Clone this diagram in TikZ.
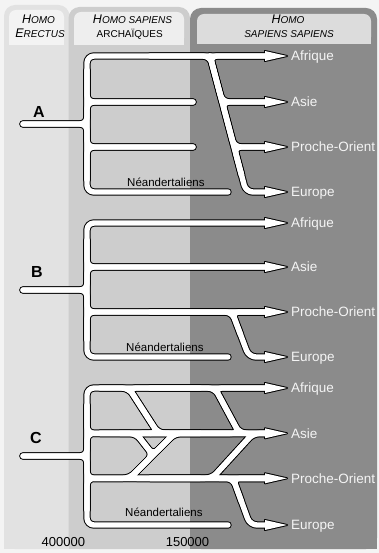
\documentclass[tikz,border=0pt]{standalone}
\usepackage{fontspec}
\setmainfont{Liberation Sans}
\definecolor{pagebg}{HTML}{F4F4F4}
\definecolor{colL}{HTML}{E2E2E2}
\definecolor{colM}{HTML}{CDCDCD}
\definecolor{colR}{HTML}{8B8B8B}
\definecolor{hdL}{HTML}{F3F3F3}
\definecolor{hdM}{HTML}{EEEEEE}
\definecolor{hdR}{HTML}{DCDCDC}
\definecolor{lbl}{HTML}{F4F4F4}
\newcommand\bigsmall[2]{{\fontsize{12.5}{12.5}\selectfont #1}{\fontsize{10}{10}\selectfont #2}}
\newcommand\tubepaths{%
% ---- A
\draw (23,124) -- (87,124) -- (87,56) -- (268,56);
\draw (23,124) -- (87,124) -- (87,192) -- (228,192);
\draw (87,70) -- (87,102) -- (193,102);
\draw (87,180) -- (87,102) -- (193,102);
\draw (87,70) -- (87,147) -- (193,147);
\draw (87,180) -- (87,147) -- (193,147);
\draw (150,56) -- (210,56) -- (246,192) -- (268,192);
\draw (268,56) -- (210,56) -- (222.2,102);
\draw (210,56) -- (222.2,102) -- (268,102);
\draw (241.5,175) -- (222.2,102) -- (268,102);
\draw (210,56) -- (234.1,147) -- (268,147);
\draw (241.5,175) -- (234.1,147) -- (268,147);
% ---- B
\draw (23,290) -- (87,290) -- (87,223) -- (268,223);
\draw (23,290) -- (87,290) -- (87,357) -- (228,357);
\draw (87,240) -- (87,267) -- (268,267);
\draw (87,340) -- (87,267) -- (268,267);
\draw (87,240) -- (87,312) -- (268,312);
\draw (87,340) -- (87,312) -- (268,312);
\draw (150,312) -- (232,312) -- (249,357) -- (268,357);
\draw (268,312) -- (232,312) -- (240.5,334.5);
% ---- C
\draw (23,456) -- (87,456) -- (87,388) -- (268,388);
\draw (23,456) -- (87,456) -- (87,525) -- (228,525);
\draw (87,405) -- (87,433.3) -- (268,433.3);
\draw (87,510) -- (87,433.3) -- (268,433.3);
\draw (87,405) -- (87,478.3) -- (268,478.3);
\draw (87,510) -- (87,478.3) -- (268,478.3);
\draw (100,388) -- (128.8,388) -- (158,433.3) -- (200,433.3);
\draw (200,388) -- (128.8,388) -- (158,433.3) -- (100,433.3);
\draw (150,388) -- (214.9,388) -- (239.3,433.3) -- (268,433.3);
\draw (268,388) -- (214.9,388) -- (239.3,433.3) -- (150,433.3);
\draw (120,433.3) -- (174.7,433.3) -- (129.7,478.3) -- (200,478.3);
\draw (230,433.3) -- (174.7,433.3) -- (129.7,478.3) -- (90,478.3);
\draw (200,433.3) -- (253.2,433.3) -- (212.1,478.3) -- (150,478.3);
\draw (268,433.3) -- (253.2,433.3) -- (212.1,478.3) -- (268,478.3);
\draw (100,433.3) -- (136,433.3) -- (153,455) -- (129.7,478.3);
\draw (200,433.3) -- (136,433.3) -- (153,455) -- (174.7,433.3);
\draw (150,478.3) -- (233,478.3) -- (250,525) -- (268,525);
\draw (268,478.3) -- (233,478.3) -- (241.5,501.7);
}
\newcommand\headpaths[1]{%
\foreach \yy in {56,102,147,192,223,267,312,357,388,433.3,478.3,525}{
  #1 (265,\yy-5) -- (287,\yy) -- (265,\yy+5) -- cycle;
}}
\begin{document}
\begin{tikzpicture}[x=1pt,y=-1pt,
  hdr/.style={inner sep=0pt, anchor=base, text=black},
  region/.style={inner sep=0pt, anchor=base west, text=lbl, font=\fontsize{13.5}{13.5}\selectfont},
  neand/.style={inner sep=0pt, anchor=base west, text=black, font=\fontsize{11.5}{11.5}\selectfont},
  letter/.style={inner sep=0pt, text=black, font=\fontsize{16}{16}\selectfont\bfseries},
  year/.style={inner sep=0pt, anchor=base, text=black, font=\fontsize{13}{13}\selectfont}]
\useasboundingbox (0,0) rectangle (379,553);
% background
\fill[pagebg] (0,0) rectangle (379,553);
\fill[colL, rounded corners=11pt] (4,5) rectangle (69.5,549);
\fill[colL] (4,30) rectangle (68.5,549);
\fill[colM, rounded corners=11pt] (68.5,7) rectangle (190,549);
\fill[colM] (68.5,30) rectangle (189.5,549);
\fill[colR, rounded corners=11pt] (190,8) rectangle (377,549);
\fill[colR] (189.5,30) rectangle (377,549);
% header inner areas
\fill[hdL, rounded corners=7pt] (9,10) rectangle (64,45);
\fill[hdL] (9,30) rectangle (64,45);
\fill[hdM, rounded corners=7pt] (74,12) rectangle (184,45);
\fill[hdM] (74,30) rectangle (184,45);
\fill[hdR, rounded corners=7pt] (197,14) rectangle (371,44);
\fill[hdR] (197,30) rectangle (371,44);
% header texts
\node[hdr] (hL1) at (38.5,24) {\itshape\bigsmall{H}{OMO}};
\node[hdr] (hL2) at (40,37.7) {\itshape\bigsmall{E}{RECTUS}};
\node[hdr] (hM1) at (132.5,23.3) {\itshape\bigsmall{H}{OMO SAPIENS}};
\node[hdr] (hM2) at (129.7,37.3) {\fontsize{10}{10}\selectfont ARCHAÏQUES};
\node[hdr] (hR1) at (288,24) {\itshape\bigsmall{H}{OMO}};
\node[hdr] (hR2) at (289,37.3) {\itshape\fontsize{10}{10}\selectfont SAPIENS SAPIENS};
% tubes: black outline pass
\begin{scope}[black, line width=7.4pt, line cap=round, line join=round, rounded corners=7pt]
\tubepaths
\end{scope}
\headpaths{\filldraw[black, line width=2pt, line join=round]}
\begin{scope}[white, line width=5.4pt, line cap=round, line join=round, rounded corners=7pt]
\tubepaths
\end{scope}
\headpaths{\fill[white]}
% letters
\node[letter] (lA) at (39,112) {A};
\node[letter] (lB) at (37,272) {B};
\node[letter] (lC) at (36,438) {C};
% region labels
\foreach \yy/\nm/\tx in {56/a1/Afrique,102/a2/Asie,147/a3/Proche-Orient,192/a4/Europe,
  223/b1/Afrique,267/b2/Asie,312/b3/Proche-Orient,357/b4/Europe,
  388/c1/Afrique,433.3/c2/Asie,478.3/c3/Proche-Orient,525/c4/Europe}{
  \node[region] (\nm) at (291,\yy+4.8) {\tx};
}
\node[neand] (nA) at (127,186.7) {Néandertaliens};
\node[neand] (nB) at (126,351.7) {Néandertaliens};
\node[neand] (nC) at (125,516.7) {Néandertaliens};
\node[year] (y1) at (63.3,546.7) {400000};
\node[year] (y2) at (187.5,546.7) {150000};
\end{tikzpicture}
\end{document}
